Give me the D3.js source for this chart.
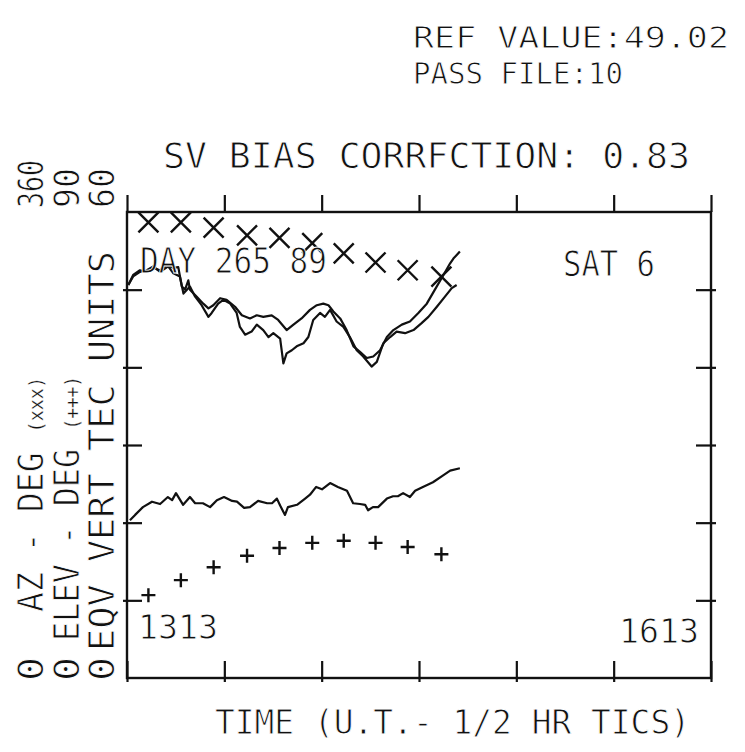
<!DOCTYPE html>
<html>
<head>
<meta charset="utf-8">
<script src="https://cdn.jsdelivr.net/npm/d3@7"></script>
<style>
  body { margin: 0; background: #fff; }
  svg text { font-family: "DejaVu Sans Mono", monospace; fill: #111; stroke: #fff; stroke-width: 0.9px; }
  svg text tspan.small { stroke-width: 0.3px; }
</style>
</head>
<body>
<div id="chart"></div>
<script>
// time in minutes after 13:13 UT, half hour tics
const timeTicks = [0, 30, 60, 90, 120, 150, 180];
const tecTicks = [0, 10, 20, 30, 40, 50, 60];

// azimuth (x markers) and elevation (+ markers), every 10 minutes
const markTime = [6.6, 16.6, 26.7, 37.0, 47.0, 57.1, 66.8, 76.6, 86.5, 96.9];
const azimuth = [352, 352, 348, 342, 340, 336, 328, 321, 315, 310];
const elevation = [16.0, 18.9, 21.4, 23.6, 25.1, 26.1, 26.5, 26.1, 25.3, 23.9];

// slant TEC, two traces [minute, TEC units]
const slantA = [
  [0.4, 50.6], [1.9, 51.9], [4.0, 52.5], [6.1, 52.3], [8.1, 52.8], [10.2, 52.5],
  [12.2, 53.2], [14.3, 52.8], [15.8, 52.9], [16.9, 50.4], [17.9, 50.0], [18.9, 51.2],
  [19.4, 50.0], [21.5, 49.1], [23.5, 48.2], [25.1, 47.6], [26.6, 48.0], [28.7, 48.9],
  [30.7, 48.7], [33.3, 47.8], [35.4, 46.7], [37.9, 46.3], [40.0, 46.7], [42.0, 46.5],
  [44.6, 46.7], [46.6, 46.1], [49.2, 44.8], [51.3, 45.5], [53.8, 46.3], [56.4, 47.4],
  [58.5, 48.0], [60.5, 48.2], [62.1, 48.0], [63.6, 47.2], [65.7, 46.3], [67.7, 44.8],
  [69.8, 42.7], [71.8, 42.0], [73.9, 41.2], [75.9, 41.4], [78.0, 42.2], [80.1, 43.9],
  [82.1, 44.8], [84.7, 45.5], [87.2, 45.9], [89.8, 47.0], [92.4, 48.2], [94.9, 50.0],
  [97.0, 51.5], [99.6, 53.4], [100.6, 54.0], [102.6, 54.9]
];
const slantB = [
  [0.4, 50.6], [1.9, 51.7], [4.0, 52.3], [6.1, 52.5], [8.1, 53.0], [10.2, 52.3],
  [12.7, 53.0], [14.3, 52.1], [16.3, 51.7], [17.4, 49.5], [19.4, 50.4], [21.0, 49.1],
  [23.0, 48.0], [25.1, 46.5], [26.1, 47.0], [28.1, 48.2], [29.7, 48.7], [31.8, 48.2],
  [33.8, 47.0], [34.8, 45.2], [36.4, 44.2], [38.4, 44.6], [40.0, 45.5], [42.0, 44.8],
  [43.6, 43.9], [45.1, 44.4], [47.2, 43.7], [48.2, 40.5], [49.2, 41.8], [50.8, 42.2],
  [52.3, 42.7], [54.4, 43.1], [55.9, 43.9], [57.4, 46.1], [59.5, 47.0], [61.0, 46.5],
  [62.6, 47.4], [64.6, 45.9], [66.7, 45.2], [68.7, 43.9], [70.8, 42.2], [72.8, 41.4],
  [75.4, 40.1], [77.0, 40.7], [79.0, 43.1], [81.1, 43.9], [83.1, 44.6], [85.7, 44.4],
  [88.3, 44.8], [90.8, 45.7], [92.9, 46.5], [95.5, 47.8], [98.0, 49.1], [100.1, 50.2],
  [101.6, 50.6]
];

// equivalent vertical TEC [minute, TEC units]
const vertTec = [
  [0.9, 20.3], [2.5, 21.0], [4.9, 22.0], [7.7, 22.7], [10.2, 22.4], [12.6, 23.3],
  [13.9, 22.9], [15.1, 23.8], [17.3, 22.3], [19.4, 23.3], [21.0, 22.5], [23.4, 22.5],
  [25.6, 22.0], [27.7, 22.9], [29.9, 23.3], [32.4, 22.8], [33.9, 22.7], [36.1, 21.9],
  [37.9, 22.0], [40.4, 22.8], [43.2, 22.5], [44.7, 22.5], [46.2, 23.1], [47.2, 22.2],
  [48.7, 21.0], [49.6, 22.0], [52.4, 22.3], [54.9, 23.1], [56.4, 23.6], [58.3, 24.6],
  [60.1, 24.3], [62.6, 25.1], [65.0, 24.6], [67.8, 24.1], [69.7, 22.5], [71.8, 22.4],
  [73.4, 22.3], [74.3, 21.6], [75.8, 22.0], [77.4, 22.0], [80.1, 23.1], [82.0, 23.4],
  [83.5, 23.4], [85.1, 23.8], [87.2, 23.3], [88.8, 24.1], [91.2, 24.6], [94.3, 25.2],
  [97.1, 26.0], [99.6, 26.7], [102.6, 27.0]
];

const W = 745, H = 752;
const svg = d3.select('#chart').append('svg')
  .attr('width', W)
  .attr('height', H);

const plotLeft = 127, plotRight = 711, plotTop = 212, plotBottom = 678;

const x = d3.scaleLinear().domain([0, 180]).range([plotLeft, plotRight]);
const yTec = d3.scaleLinear().domain([0, 60]).range([plotBottom, plotTop]);
const yAz = d3.scaleLinear().domain([0, 360]).range([plotBottom, plotTop]);
const yEl = d3.scaleLinear().domain([0, 90]).range([plotBottom, plotTop]);

const ink = '#111';

// frame
svg.append('rect')
  .attr('x', plotLeft).attr('y', plotTop)
  .attr('width', plotRight - plotLeft).attr('height', plotBottom - plotTop)
  .attr('fill', 'none').attr('stroke', ink).attr('stroke-width', 2.4);

// axes, tics only
function styleAxis(g) {
  g.select('.domain').remove();
  g.selectAll('text').remove();
  g.selectAll('line').attr('stroke', ink).attr('stroke-width', 2.2);
}

svg.append('g')
  .attr('transform', `translate(0,${plotTop})`)
  .call(d3.axisTop(x).tickValues(timeTicks).tickSize(17))
  .call(styleAxis);

svg.append('g')
  .attr('transform', `translate(0,${plotBottom})`)
  .call(d3.axisBottom(x).tickValues(timeTicks).tickSize(-17))
  .call(styleAxis)
  .selectAll('line').attr('y1', 4);

svg.append('g')
  .attr('transform', `translate(${plotLeft},0)`)
  .call(d3.axisLeft(yTec).tickValues(tecTicks.slice(1, -1)).tickSize(-15))
  .call(styleAxis)
  .selectAll('line').attr('x1', -4);

svg.append('g')
  .attr('transform', `translate(${plotRight},0)`)
  .call(d3.axisRight(yTec).tickValues(tecTicks.slice(1, -1)).tickSize(-15))
  .call(styleAxis)
  .selectAll('line').attr('x1', 5);

// TEC traces
const line = d3.line().x(d => x(d[0])).y(d => yTec(d[1]));
[slantA, slantB, vertTec].forEach(s => {
  svg.append('path')
    .datum(s)
    .attr('d', line)
    .attr('fill', 'none')
    .attr('stroke', ink)
    .attr('stroke-width', 2.2)
    .attr('stroke-linejoin', 'round');
});

// azimuth markers
const xs = 10;
svg.append('g').selectAll('path')
  .data(markTime.map((t, i) => [t, azimuth[i]]))
  .join('path')
  .attr('d', d => {
    const cx = x(d[0]), cy = yAz(d[1]);
    return `M${cx - xs},${cy - xs}L${cx + xs},${cy + xs}M${cx - xs},${cy + xs}L${cx + xs},${cy - xs}`;
  })
  .attr('stroke', ink).attr('stroke-width', 2.4).attr('fill', 'none');

// elevation markers
const ps = 7;
svg.append('g').selectAll('path')
  .data(markTime.map((t, i) => [t, elevation[i]]))
  .join('path')
  .attr('d', d => {
    const cx = x(d[0]), cy = yEl(d[1]);
    return `M${cx - ps},${cy}L${cx + ps},${cy}M${cx},${cy - ps}L${cx},${cy + ps}`;
  })
  .attr('stroke', ink).attr('stroke-width', 2.4).attr('fill', 'none');

// texts
function label(txt, px, py, size, len) {
  const t = svg.append('text')
    .attr('x', px).attr('y', py)
    .attr('font-size', size)
    .text(txt);
  if (len) t.attr('textLength', len).attr('lengthAdjust', 'spacingAndGlyphs');
  return t;
}

label('REF VALUE:49.02', 413, 48, 31, 316);
label('PASS FILE:10', 413, 84, 31, 210);
label('SV BIAS CORRFCTION: 0.83', 163, 168, 35, 527);
label('DAY 265 89', 140, 273, 35, 187);
label('SAT 6', 563, 276, 35, 92);
label('1313', 138, 639, 34, 80);
label('1613', 619, 643, 34, 80);
label('TIME (U.T.- 1/2 HR TICS)', 215, 734, 33, 475);

// rotated axis titles, one column per scale
const colBase = [43, 79, 114];
const colZero = ['0', '0', '0'];
const colTop = ['360', '90', '60'];
const colTopLen = [48, 40, 40];

function vlabel(px, py, size, len) {
  return svg.append('text')
    .attr('transform', `translate(${px},${py}) rotate(-90)`)
    .attr('font-size', size)
    .attr('textLength', len || null)
    .attr('lengthAdjust', 'spacingAndGlyphs');
}

colBase.forEach((bx, i) => {
  vlabel(bx, 681, 36, 24).text(colZero[i]);
  vlabel(bx, 208, 36, colTopLen[i]).text(colTop[i]);
});

const az = vlabel(colBase[0], 612, 36, 235);
az.append('tspan').text('AZ - DEG ');
az.append('tspan').attr('class', 'small').attr('font-size', 20).text('(xxx)');

const el = vlabel(colBase[1], 641, 36, 265);
el.append('tspan').text('ELEV - DEG ');
el.append('tspan').attr('class', 'small').attr('font-size', 20).text('(+++)');

vlabel(colBase[2], 651, 36, 400).text('EQV VERT TEC UNITS');
</script>
</body>
</html>
